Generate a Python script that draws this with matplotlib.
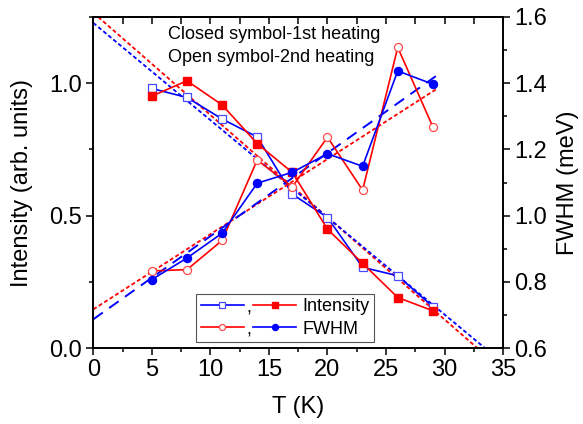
import matplotlib
matplotlib.use("Agg")
import matplotlib.pyplot as plt
from matplotlib.legend_handler import HandlerBase, HandlerLine2D
from matplotlib.text import Text
from matplotlib.ticker import MultipleLocator, FormatStrFormatter

plt.rcParams['font.family'] = ['Liberation Sans', 'DejaVu Sans']

T = [5, 8, 11, 14, 17, 20, 23, 26, 29]
int_1st = [0.951, 1.009, 0.918, 0.772, 0.663, 0.449, 0.320, 0.191, 0.141]
int_2nd = [0.980, 0.946, 0.865, 0.797, 0.581, 0.493, 0.305, 0.273, 0.156]
fwhm_1st = [0.807, 0.872, 0.947, 1.098, 1.131, 1.187, 1.149, 1.437, 1.397]
fwhm_2nd = [0.833, 0.837, 0.925, 1.168, 1.087, 1.237, 1.077, 1.508, 1.268]

# linear fit lines (intercept, slope)
fit_int_1st = (1.266, -0.0386)
fit_int_2nd = (1.2276, -0.0367)
fit_fwhm_1st = (0.687, 0.0251)
fit_fwhm_2nd = (0.717, 0.0227)
fit_int_x = [0, 35]
fit_fwhm_x = [0, 29.4]

legend_labels = ['Intensity', 'FWHM']
note_lines = ['Closed symbol-1st heating', 'Open symbol-2nd heating']

fig = plt.figure(figsize=(5.83, 4.24), dpi=100)
ax = fig.add_axes([0.160, 0.179, 0.703, 0.781])
ax2 = ax.twinx()

blue = '#0000ff'
red = '#ff0000'


def line(x, fit):
    return [fit[0] + fit[1] * xi for xi in x]


ax.plot(fit_int_x, line(fit_int_x, fit_int_1st), color=red, lw=1.3, dashes=(2.2, 1.4))
ax.plot(fit_int_x, line(fit_int_x, fit_int_2nd), color=blue, lw=1.3, dashes=(2.2, 1.4))
ax2.plot(fit_fwhm_x, line(fit_fwhm_x, fit_fwhm_2nd), color=red, lw=1.3, dashes=(2.2, 1.4))
ax2.plot(fit_fwhm_x, line(fit_fwhm_x, fit_fwhm_1st), color=blue, lw=1.4, dashes=(6, 4))

h1, = ax.plot(T, int_2nd, color=blue, lw=1.2, marker='s', ms=5.5, mfc='white', mec='#4a4aff', mew=0.9)
h2, = ax.plot(T, int_1st, color=red, lw=1.2, marker='s', ms=5.8, mfc=red, mec=red)
h3, = ax2.plot(T, fwhm_2nd, color=red, lw=1.2, marker='o', ms=5.8, mfc='white', mec='#ff4a4a', mew=0.9)
h4, = ax2.plot(T, fwhm_1st, color=blue, lw=1.2, marker='o', ms=5.8, mfc=blue, mec=blue)

ax.set_xlim(0, 35)
ax.set_ylim(0, 1.25)
ax2.set_ylim(0.6, 1.6)

ax.xaxis.set_major_locator(MultipleLocator(5))
ax.xaxis.set_minor_locator(MultipleLocator(2.5))
ax.yaxis.set_major_locator(MultipleLocator(0.5))
ax.yaxis.set_minor_locator(MultipleLocator(0.25))
ax2.yaxis.set_major_locator(MultipleLocator(0.2))
ax2.yaxis.set_minor_locator(MultipleLocator(0.1))
ax.yaxis.set_major_formatter(FormatStrFormatter('%.1f'))
ax2.yaxis.set_major_formatter(FormatStrFormatter('%.1f'))

for a, axis in ((ax, 'x'), (ax, 'y'), (ax2, 'y')):
    a.tick_params(axis=axis, which='both', direction='out', labelsize=17, width=1.1)
    a.tick_params(axis=axis, which='major', length=5, pad=3)
    a.tick_params(axis=axis, which='minor', length=3)
ax.tick_params(axis='x', which='both', top=False)

# top ticks pointing inward
secx = ax.secondary_xaxis('top')
secx.xaxis.set_major_locator(MultipleLocator(2.5))
secx.tick_params(direction='in', length=5, width=1.1, labeltop=False)

for a in (ax, ax2):
    for s in a.spines.values():
        s.set_linewidth(1.2)
for s in secx.spines.values():
    s.set_linewidth(1.2)

ax.set_xlabel('T (K)', fontsize=17)
ax.set_ylabel('Intensity (arb. units)', fontsize=17)
ax2.set_ylabel('FWHM (meV)', fontsize=17)
ax.xaxis.set_label_coords(0.5, -0.145)
ax.yaxis.set_label_coords(-0.147, 0.5)
ax2.yaxis.set_label_coords(1.132, 0.5)

ax.text(0.1825, 0.9335, note_lines[0], transform=ax.transAxes, fontsize=13, va='baseline')
ax.text(0.1825, 0.864, note_lines[1], transform=ax.transAxes, fontsize=13, va='baseline')


class CommaHandler(HandlerBase):
    def create_artists(self, legend, orig_handle, xdescent, ydescent,
                       width, height, fontsize, trans):
        ha, hb = orig_handle
        gap = 0.5 * fontsize
        w = (width - gap) / 2
        hl = HandlerLine2D()
        arts = hl.create_artists(legend, ha, xdescent, ydescent, w, height, fontsize, trans)
        arts += hl.create_artists(legend, hb, xdescent - w - gap, ydescent, w, height, fontsize, trans)
        comma = Text(w + gap / 2 - xdescent, -ydescent - 0.05 * fontsize, ',',
                     fontsize=fontsize, ha='center', va='baseline', transform=trans)
        arts.append(comma)
        return arts


leg = ax2.legend([(h1, h2), (h3, h4)], legend_labels,
                 handler_map={tuple: CommaHandler()},
                 loc='lower left', bbox_to_anchor=(0.251, 0.018), borderaxespad=0,
                 fontsize=13, handlelength=5.3, handletextpad=0.35,
                 fancybox=False, edgecolor='#555555', framealpha=1,
                 borderpad=0.25, labelspacing=0.3, markerscale=0.75)
leg.get_frame().set_linewidth(0.8)

fig.savefig('out.png', dpi=100)
